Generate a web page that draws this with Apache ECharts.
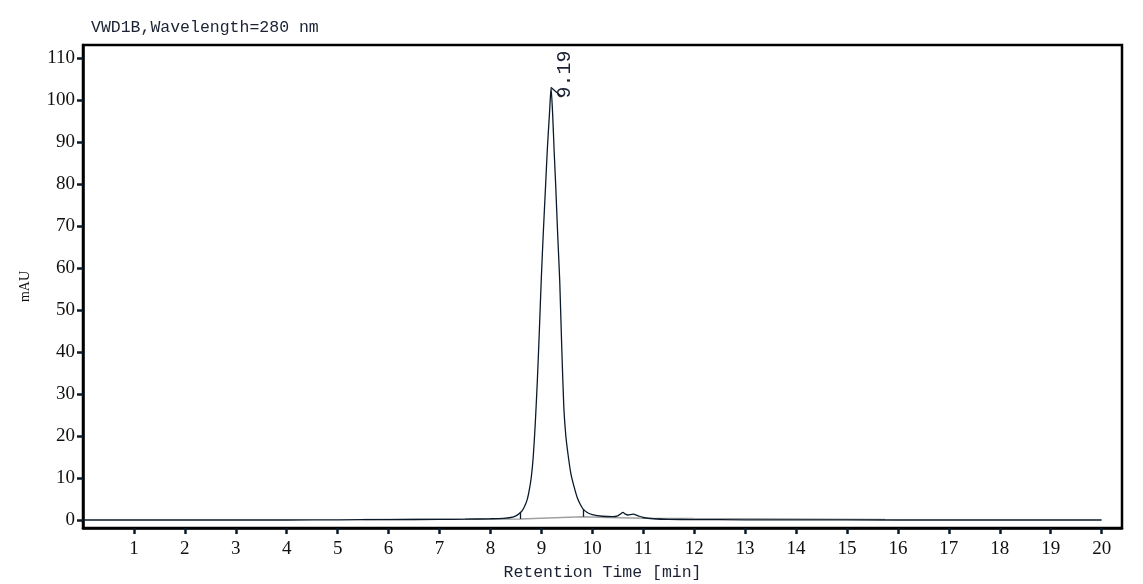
<!DOCTYPE html>
<html>
<head>
<meta charset="utf-8">
<script src="https://cdn.jsdelivr.net/npm/echarts@6/dist/echarts.min.js"></script>
<style>
html, body { margin: 0; padding: 0; background: #fff; }
#main { width: 1143px; height: 584px; }
</style>
</head>
<body>
<div id="main"></div>
<script>
// 保留时间 (min) 与 信号 (mAU)
var times = [0, 1, 2, 3, 4, 5, 6, 7, 7.5, 8.0, 8.25, 8.4, 8.5, 8.6, 8.66, 8.72, 8.76, 8.8, 8.84, 8.88, 8.92, 8.96,
    9.0, 9.04, 9.08, 9.12, 9.16, 9.19, 9.22, 9.25, 9.28, 9.32, 9.36, 9.40, 9.44, 9.48, 9.53, 9.58, 9.64,
    9.7, 9.76, 9.82, 9.9, 10.0, 10.2, 10.4, 10.5, 10.55, 10.6, 10.65, 10.7, 10.8, 10.9, 11.0, 11.2, 11.5,
    12, 13, 14, 16, 18, 20];
var signal = [0, 0, 0, 0, 0, 0.05, 0.1, 0.15, 0.2, 0.3, 0.4, 0.6, 1.0, 1.9, 3.0, 4.8, 7, 10, 15, 23, 33, 45,
    58, 69, 79, 89, 97, 103, 97, 88, 80, 68, 57, 41, 27, 20, 15, 11, 8,
    5.5, 3.8, 2.6, 1.8, 1.3, 0.9, 0.8, 1.0, 1.4, 1.8, 1.4, 1.2, 1.4, 1.0, 0.6, 0.3, 0.15,
    0.1, 0.05, 0.03, 0, 0, 0];

// 灰色积分基线
var baseTimes = [5.5, 7, 8.58, 9.82, 10.3, 11, 12, 14, 15.75];
var baseVals = [0.15, 0.2, 0.25, 0.8, 0.6, 0.45, 0.35, 0.25, 0.15];

// 峰起点/终点的分割线 [时间, 基线值, 曲线值]
var cuts = [[8.58, 0.25, 1.8], [9.82, 0.8, 2.6]];

var peakTime = 9.19, peakHeight = 103;
var xTicks = [1, 2, 3, 4, 5, 6, 7, 8, 9, 10, 11, 12, 13, 14, 15, 16, 17, 18, 19, 20];
var yTicks = [0, 10, 20, 30, 40, 50, 60, 70, 80, 90, 100, 110];

var myChart = echarts.init(document.getElementById('main'));

var lineData = times.map(function (t, i) { return [t, signal[i]]; });
var baseData = baseTimes.map(function (t, i) { return [t, baseVals[i]]; });

var dark = '#0b1a2b';
var option = {
    backgroundColor: '#fff',
    animation: false,
    title: {
        text: 'VWD1B,Wavelength=280 nm',
        left: 86, top: 14,
        textStyle: { fontFamily: 'Liberation Mono', fontSize: 16.5, fontWeight: 'normal', color: '#1a2233' }
    },
    grid: {
        left: 83, top: 45, right: 21, bottom: 56,
        outerBoundsMode: 'none',
        show: true, borderColor: '#000', borderWidth: 2.5, backgroundColor: '#fff'
    },
    xAxis: {
        type: 'value', min: 0, max: 20.4,
        name: 'Retention Time [min]', nameLocation: 'middle', nameGap: 35,
        nameTextStyle: { fontFamily: 'Liberation Mono', fontSize: 16.5, color: '#1a2233' },
        axisLine: { onZero: false, lineStyle: { color: '#000', width: 2.5 } },
        axisTick: { customValues: xTicks, length: 6, lineStyle: { color: dark, width: 2.5 } },
        axisLabel: { customValues: xTicks, fontFamily: 'Liberation Serif', fontSize: 19, color: '#111', margin: 12 },
        splitLine: { show: false }
    },
    yAxis: {
        type: 'value', min: -1.9, max: 113.1,
        name: 'mAU', nameLocation: 'middle', nameGap: 51,
        nameTextStyle: { fontFamily: 'Liberation Serif', fontSize: 14, color: '#111' },
        axisLine: { onZero: false, lineStyle: { color: '#000', width: 2.5 } },
        axisTick: { customValues: yTicks, length: 6, lineStyle: { color: dark, width: 2.5 } },
        axisLabel: { customValues: yTicks, fontFamily: 'Liberation Serif', fontSize: 19, color: '#111', margin: 8 },
        splitLine: { show: false }
    },
    series: [{
        name: 'baseline',
        type: 'line',
        data: baseData,
        symbol: 'none',
        z: 1,
        lineStyle: { color: '#a0a0a0', width: 1.5 }
    }, {
        name: 'VWD1B',
        type: 'line',
        data: lineData,
        symbol: 'none',
        smooth: 0.2,
        z: 2,
        lineStyle: { color: dark, width: 1.3 },
        markLine: {
            silent: true,
            symbol: 'none',
            label: { show: false },
            lineStyle: { color: dark, width: 1.3, type: 'solid' },
            data: [
                [{ coord: [peakTime, peakHeight] }, { coord: [9.4, 100.8] }]
            ].concat(cuts.map(function (c) {
                return [{ coord: [c[0], c[1]] }, { coord: [c[0], c[2]] }];
            }))
        },
        markPoint: {
            silent: true,
            symbol: 'circle', symbolSize: 0,
            data: [{ coord: [peakTime, peakHeight] }],
            label: {
                show: true,
                formatter: peakTime.toFixed(2),
                position: 'inside',
                rotate: 90,
                align: 'left', verticalAlign: 'middle',
                offset: [-11, 14],
                fontFamily: 'Liberation Mono', fontSize: 20, color: '#1a2233'
            }
        }
    }]
};
myChart.setOption(option);
</script>
</body>
</html>
